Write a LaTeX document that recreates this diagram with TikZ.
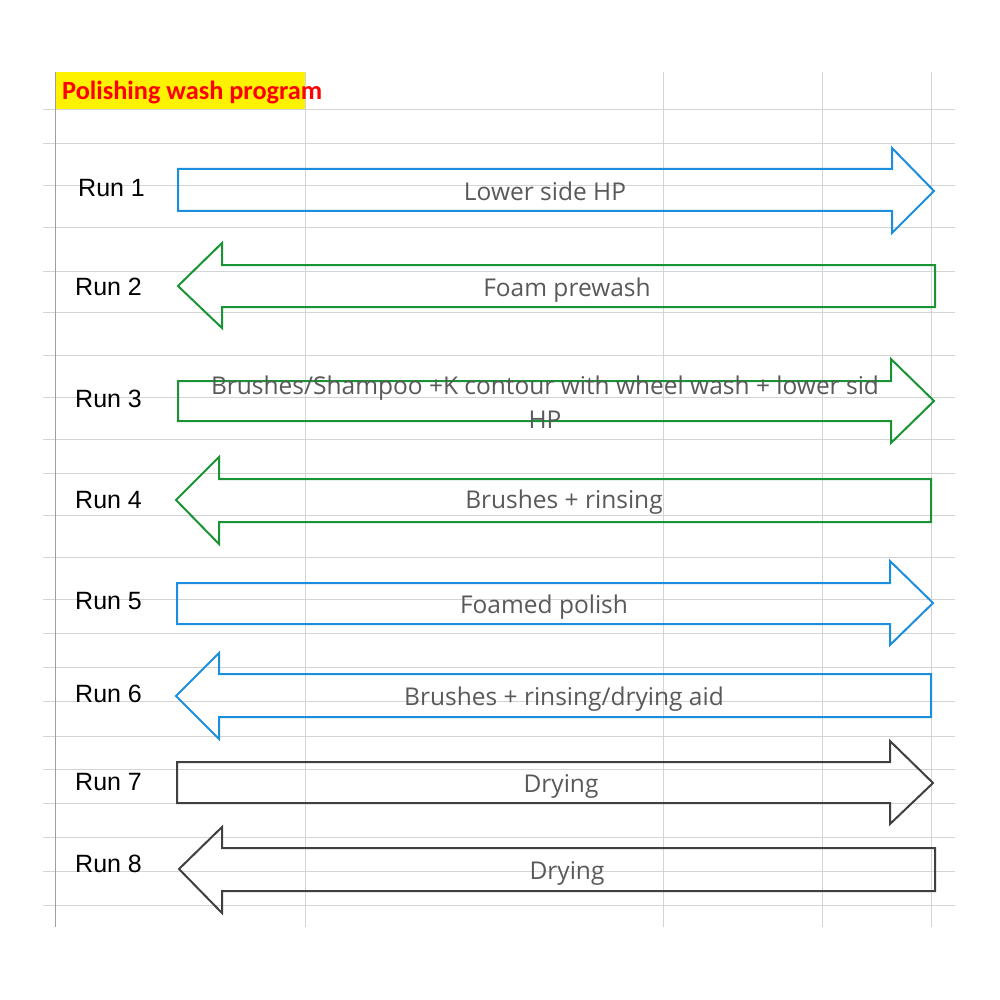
\documentclass[tikz,border=0pt]{standalone}
\usepackage{xcolor}
\usepackage{fontspec}
\setmainfont{Carlito}
\newfontfamily\runfont{Liberation Sans}
\newfontfamily\stepfont{Open Sans}
\usepackage{tikz}

\definecolor{runblue}{RGB}{28,142,222}
\definecolor{rungreen}{RGB}{24,148,52}
\definecolor{rungray}{RGB}{64,64,64}
\definecolor{labelgray}{RGB}{89,89,89}
\definecolor{gridgray}{RGB}{212,212,212}
\definecolor{titlered}{RGB}{255,0,0}

\begin{document}
\begin{tikzpicture}[x = 1pt, y = -1pt,
  gridline/.style = {draw = gridgray, line width = 1pt},
  blueshape/.style = {draw = runblue, line width = 2pt, line join = miter},
  greenshape/.style = {draw = rungreen, line width = 2pt, line join = miter},
  grayshape/.style = {draw = rungray, line width = 2pt, line join = miter},
  runlabel/.style = {anchor = base west, inner sep = 0pt, font = \runfont\fontsize{25}{30}\selectfont},
  steplabel/.style = {anchor = base, inner sep = 0pt, text = labelgray, font = \stepfont\fontsize{24.5}{34}\selectfont}]
\useasboundingbox (0,0) rectangle (1000,1000);

% sheet grid
\fill [yellow] (55,72) rectangle (305,110);
\foreach \y in {110,144,186,228,271,312,355,397,439,473,515,557,599,633,667,701,736,769,803,837,871,905}
  \draw [gridline] (43,\y) -- (955,\y);
\foreach \x in {305,663,822,931}
  \draw [gridline] (\x,72) -- (\x,927);
\draw [draw = gray!75, line width = 1pt] (55,72) -- (55,927);

\node [anchor = base west, inner sep = 0pt, text = titlered, font = \bfseries\fontsize{26.3}{30}\selectfont] (title) at (62,100) {Polishing wash program};

% run names
\node [runlabel] (run1) at (78,197) {Run 1};
\node [runlabel] (run2) at (75,295) {Run 2};
\node [runlabel] (run3) at (75,407) {Run 3};
\node [runlabel] (run4) at (75,508) {Run 4};
\node [runlabel] (run5) at (75,609) {Run 5};
\node [runlabel] (run6) at (75,702) {Run 6};
\node [runlabel] (run7) at (75,790) {Run 7};
\node [runlabel] (run8) at (75,872) {Run 8};

% arrows
\draw [blueshape] (178,169) -- (892,169) -- (892,148) -- (934,191) -- (892,233) -- (892,211) -- (178,211) -- cycle;
\draw [greenshape] (935,265) -- (222,265) -- (222,243) -- (178,286) -- (222,328) -- (222,307) -- (935,307) -- cycle;
\draw [greenshape] (178,381) -- (891,381) -- (891,359) -- (934,401) -- (891,443) -- (891,421) -- (178,421) -- cycle;
\draw [greenshape] (931,479) -- (219,479) -- (219,457) -- (176,500) -- (219,544) -- (219,522) -- (931,522) -- cycle;
\draw [blueshape] (177,583) -- (890,583) -- (890,561) -- (933,603) -- (890,645) -- (890,624) -- (177,624) -- cycle;
\draw [blueshape] (931,674) -- (219,674) -- (219,653) -- (176,696) -- (219,739) -- (219,717) -- (931,717) -- cycle;
\draw [grayshape] (177,762) -- (890,762) -- (890,741) -- (933,783) -- (890,824) -- (890,803) -- (177,803) -- cycle;
\draw [grayshape] (935,848) -- (222,848) -- (222,827) -- (179,869) -- (222,913) -- (222,891) -- (935,891) -- cycle;

% arrow texts
\node [steplabel] (step1) at (545,201) {Lower side HP};
\node [steplabel] (step2) at (567,296) {Foam prewash};
\node [steplabel] (step3a) at (545,394) {Brushes/Shampoo +K contour with wheel wash + lower sid};
\node [steplabel] (step3b) at (545,428) {HP};
\node [steplabel] (step4) at (564,508) {Brushes + rinsing};
\node [steplabel] (step5) at (544,613) {Foamed polish};
\node [steplabel] (step6) at (564,705) {Brushes + rinsing/drying aid};
\node [steplabel] (step7) at (561,792) {Drying};
\node [steplabel] (step8) at (567,879) {Drying};
\end{tikzpicture}
\end{document}
